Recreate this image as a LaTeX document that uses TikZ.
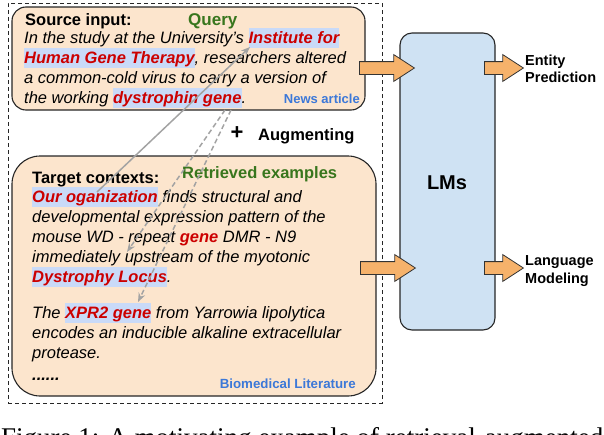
\documentclass[tikz,border=0pt]{standalone}
\usepackage{fontspec}
\setmainfont{Liberation Sans}
\setsansfont{Liberation Sans}
\newfontfamily\capfont{Liberation Serif}
\usetikzlibrary{shapes.arrows,arrows.meta}
\definecolor{peach}{HTML}{FCE5CD}
\definecolor{lmblue}{HTML}{CFE2F3}
\definecolor{fatorange}{HTML}{F6B26B}
\definecolor{hlblue}{HTML}{C9DAF8}
\definecolor{termred}{HTML}{CC0000}
\definecolor{qgreen}{HTML}{38761D}
\definecolor{srcblue}{HTML}{3C78D8}
\definecolor{linkgray}{HTML}{A3A3A3}
\newcommand\hterm[1]{{\setlength{\fboxsep}{0pt}\colorbox{hlblue}{\rule[-5pt]{0pt}{20pt}\textbf{\textcolor{termred}{#1}}}}}
\newcommand\rterm[1]{\textbf{\textcolor{termred}{#1}}}
\begin{document}
\begin{tikzpicture}[x=1pt,y=-1pt,
  txtline/.style={anchor=base west, inner sep=0pt, font=\fontsize{16.5}{20}\selectfont\itshape},
  headline/.style={anchor=base west, inner sep=0pt, font=\fontsize{16.5}{20}\selectfont\bfseries},
  greenlabel/.style={anchor=base west, inner sep=0pt, text=qgreen, font=\fontsize{16.5}{20}\selectfont\bfseries},
  srclabel/.style={anchor=base east, inner sep=0pt, text=srcblue, font=\fontsize{13.3}{16}\selectfont\bfseries},
  outlabel/.style={anchor=base west, inner sep=0pt, font=\fontsize{14.5}{17}\selectfont\bfseries},
  textbox/.style={draw=black!85, fill=peach, line width=1.1pt, inner sep=0pt},
  lmbox/.style={draw=black!85, fill=lmblue, line width=1.1pt, rounded corners=12pt, inner sep=0pt},
  outerbox/.style={draw=black!85, line width=0.9pt, dash pattern=on 4pt off 3pt, inner sep=0pt},
  fatarrow/.style={single arrow, draw=black!80, fill=fatorange, line width=0.8pt,
     minimum width=26pt, single arrow head extend=7pt, single arrow tip angle=66,
     inner xsep=0pt, inner ysep=6pt},
  link/.style={draw=linkgray, line width=1.5pt, -{Stealth[length=9pt,width=7pt]}},
  dashlink/.style={link, dash pattern=on 5pt off 3pt}
]
\useasboundingbox (0,0) rectangle (604,434);
\begin{scope}
\clip (0,0) rectangle (604,434);
% boxes
\node[outerbox, minimum width=374pt, minimum height=400pt] (outer) at (195,203) {};
\node[textbox, rounded corners=14pt, minimum width=353pt, minimum height=103pt] (src) at (188.5,58.5) {};
\node[textbox, rounded corners=28pt, minimum width=364pt, minimum height=240pt] (tgt) at (194,276) {};
\node[lmbox, minimum width=95pt, minimum height=297pt] (lms) at (447.5,181.5) {};
\node[inner sep=0pt, font=\fontsize{20}{24}\selectfont\bfseries] (lmstxt) at (447,183) {LMs};
% fat arrows
\node[fatarrow, minimum height=55pt, anchor=tail] (inq) at (359,68) {};
\node[fatarrow, minimum height=55pt, anchor=tail] (inc) at (360,268) {};
\node[fatarrow, minimum height=39pt, anchor=tail] (oute) at (484,68) {};
\node[fatarrow, minimum height=39pt, anchor=tail] (outl) at (484,268) {};
\node[outlabel] (ent1) at (525,65) {Entity};
\node[outlabel] (ent2) at (525,82) {Prediction};
\node[outlabel] (lang1) at (525,265) {Language};
\node[outlabel] (lang2) at (525,283) {Modeling};
% source text
\node[headline] (s0) at (25,25) {Source input:};
\node[greenlabel, font=\fontsize{17}{20}\selectfont\bfseries] (query) at (188,25) {Query};
\node[txtline] (s1) at (24,43) {In the study at the University's \hterm{Institute for}};
\node[txtline] (s2) at (24,63) {\hterm{Human Gene Therapy}, researchers altered};
\node[txtline] (s3) at (24,83) {a common-cold virus to carry a version of};
\node[txtline] (s4) at (24,103) {the working \hterm{dystrophin gene}.};
\node[srclabel, font=\fontsize{13}{16}\selectfont\bfseries] (news) at (360,103) {News article};
% augmenting
\node[inner sep=0pt, font=\fontsize{22}{22}\selectfont\bfseries] (plus) at (237,133) {+};
\node[headline] (aug) at (258,140) {Augmenting};
% target text
\node[headline] (t0) at (32,183) {Target contexts:};
\node[greenlabel] (retr) at (182,178) {Retrieved examples};
\node[txtline] (t1) at (32,202) {\hterm{Our oganization} finds structural and};
\node[txtline] (t2) at (32,222) {developmental expression pattern of the};
\node[txtline] (t3) at (32,242) {mouse WD - repeat \rterm{gene} DMR - N9};
\node[txtline] (t4) at (32,262) {immediately upstream of the myotonic};
\node[txtline] (t5) at (32,282) {\hterm{Dystrophy Locus}.};
\node[txtline] (t6) at (32,318) {The \hterm{XPR2 gene} from Yarrowia lipolytica};
\node[txtline] (t7) at (32,338) {encodes an inducible alkaline extracellular};
\node[txtline] (t8) at (32,358) {protease.};
\node[txtline] (t9) at (32,380) {\textbf{......}};
\node[srclabel] (bio) at (356,388) {Biomedical Literature};
% links
\coordinate (oo) at (97,192);
\coordinate (inst) at (250,47);
\coordinate (dg1) at (225,110);
\coordinate (dl) at (127,252);
\coordinate (dg2) at (231,110);
\coordinate (xg) at (138,302);
\draw[link] (oo) -- (inst);
\draw[dashlink] (dg1) -- (dl);
\draw[dashlink] (dg2) -- (xg);
% caption (cut off in the reference as well)
\node[anchor=base west, inner sep=0pt, font=\capfont\fontsize{27}{27}\selectfont] (cap) at (1,446) {Figure 1: A motivating example of retrieval-augmented};
\end{scope}
\end{tikzpicture}
\end{document}
